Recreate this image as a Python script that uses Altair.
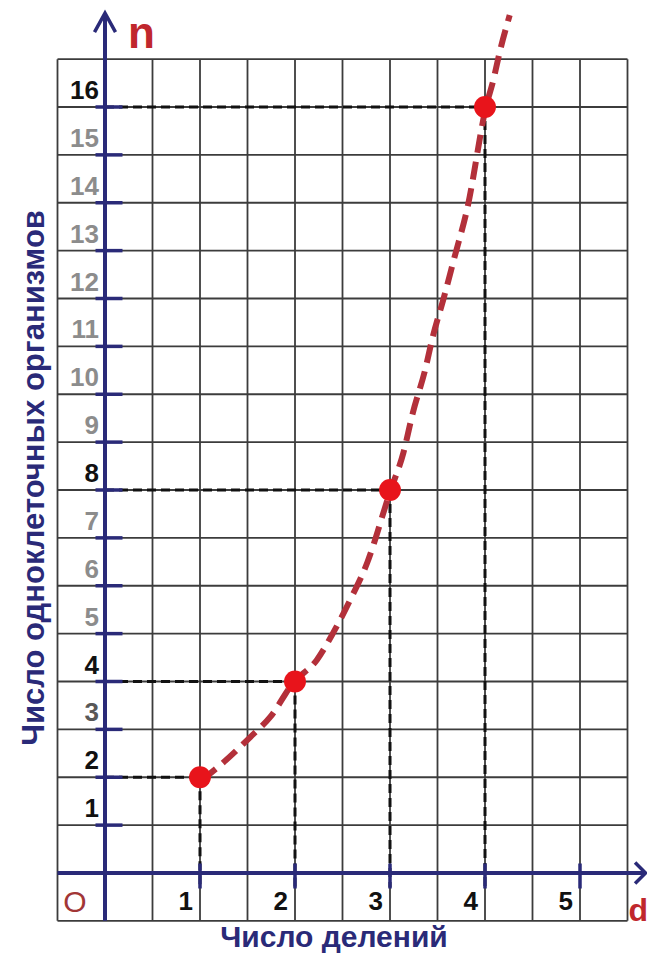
import altair as alt
import pandas as pd

# ---------------- data ----------------
divisions = [1, 2, 3, 4]            # d (число делений)
organisms = [2, 4, 8, 16]           # n (число организмов)

curve_divisions = [1.02, 1.24, 1.53, 1.74, 1.98, 2.23, 2.40, 2.58, 2.76, 3.00, 3.14,
                   3.24, 3.37, 3.45, 3.56, 3.68, 3.81, 4.02, 4.08, 4.16, 4.26]
curve_organisms = [1.94, 2.30, 2.84, 3.26, 3.97, 4.45, 5.01, 5.70, 6.48, 7.96, 8.77,
                   9.61, 10.51, 11.20, 11.97, 12.87, 13.85, 16.08, 16.50, 17.19, 17.92]

x_tick_values = [1, 2, 3, 4, 5]
y_tick_values = [1, 2, 3, 4, 5, 6, 7, 8, 9, 10, 11, 12, 13, 14, 15, 16]
y_highlight = [1, 2, 4, 8, 16]
y_mid = [3]

x_grid = [-0.5, 0, 0.5, 1, 1.5, 2, 2.5, 3, 3.5, 4, 4.5, 5, 5.5]
y_grid = [-1, 0, 1, 2, 3, 4, 5, 6, 7, 8, 9, 10, 11, 12, 13, 14, 15, 16, 17]

x_axis_end = 5.69
y_axis_end = 17.96
guide_bottom = -0.3

x_title = "Число делений"
y_title = "Число одноклеточных организмов"

# ---------------- styling ----------------
W, H = 639, 945
XS = alt.Scale(domain=[-1.021053, 5.705263], nice=False, zero=False)
YS = alt.Scale(domain=[-1.67102, 18.0679], nice=False, zero=False)
NAVY = "#2a2a78"
GRID = "#3c3c3c"
RED_LINE = "#b3303a"
RED_DOT = "#e8141b"
FONT = "Liberation Sans"


def X(f):
    return alt.X(f, type="quantitative", scale=XS, axis=None)


def Y(f):
    return alt.Y(f, type="quantitative", scale=YS, axis=None)


# grid
vgrid = pd.DataFrame({"x": x_grid, "y0": min(y_grid), "y1": max(y_grid)})
hgrid = pd.DataFrame({"y": y_grid, "x0": min(x_grid), "x1": max(x_grid)})
grid_v = alt.Chart(vgrid).mark_rule(color=GRID, strokeWidth=1.8).encode(
    x=X("x"), y=Y("y0"), y2="y1")
grid_h = alt.Chart(hgrid).mark_rule(color=GRID, strokeWidth=1.8).encode(
    y=Y("y"), x=X("x0"), x2="x1")

pts = pd.DataFrame({"d": divisions, "n": organisms, "zero": 0, "bottom": guide_bottom})
guide_h = alt.Chart(pts).mark_rule(color="#111", strokeWidth=3, strokeDash=[9, 5]).encode(
    x=X("zero"), x2="d", y=Y("n"))
guide_v = alt.Chart(pts).mark_rule(color="#111", strokeWidth=3, strokeDash=[9, 5]).encode(
    x=X("d"), y=Y("n"), y2="bottom")

# axes
axes_df = pd.DataFrame({"x0": [min(x_grid)], "x1": [x_axis_end], "y0": [min(y_grid)],
                        "y1": [y_axis_end], "zero": [0]})
y_axis = alt.Chart(axes_df).mark_rule(color=NAVY, strokeWidth=4).encode(
    x=X("zero"), y=Y("y0"), y2="y1")
x_axis = alt.Chart(axes_df).mark_rule(color=NAVY, strokeWidth=4).encode(
    y=Y("zero"), x=X("x0"), x2="x1")
x_arrow = alt.Chart(axes_df).mark_point(
    shape="M-1,-1L0,0L-1,1", filled=False, size=441, strokeWidth=3.5, color=NAVY, opacity=1
).encode(x=X("x1"), y=Y("zero"))
y_arrow = alt.Chart(axes_df).mark_point(
    shape="M-1,1.8L0,0L1,1.8", filled=False, size=441, strokeWidth=3.5, color=NAVY, opacity=1
).encode(x=X("zero"), y=Y("y1"))

# axis ticks
ydf = pd.DataFrame({"n": y_tick_values, "zero": 0,
                    "tone": ["hi" if v in y_highlight else ("mid" if v in y_mid else "lo")
                             for v in y_tick_values]})
xdf = pd.DataFrame({"d": x_tick_values, "zero": 0})
y_ticks = alt.Chart(ydf).mark_tick(orient="horizontal", size=27, thickness=3.5, color=NAVY,
                                    xOffset=4, opacity=1).encode(x=X("zero"), y=Y("n"))
x_ticks = alt.Chart(xdf).mark_tick(orient="vertical", size=25, thickness=3.5, color=NAVY,
                                    yOffset=3, opacity=1).encode(x=X("d"), y=Y("zero"))

# curve and points
cdf = pd.DataFrame({"d": curve_divisions, "n": curve_organisms,
                    "i": list(range(len(curve_divisions)))})
curve = alt.Chart(cdf).mark_line(color=RED_LINE, strokeWidth=6, strokeDash=[18, 9],
                                 interpolate="monotone").encode(
    x=X("d"), y=Y("n"), order="i:Q")
dots = alt.Chart(pts).mark_circle(color=RED_DOT, size=480, opacity=1).encode(
    x=X("d"), y=Y("n"))

# tick labels
y_labels = alt.Chart(ydf).mark_text(align="right", baseline="middle", dx=-6, dy=-16,
                                    fontSize=26, fontWeight="bold", font=FONT).encode(
    x=X("zero"), y=Y("n"), text="n:Q",
    color=alt.Color("tone:N", legend=None,
                    scale=alt.Scale(domain=["hi", "mid", "lo"],
                                    range=["#111111", "#585858", "#8c8c8c"])))
x_labels = alt.Chart(xdf).mark_text(align="right", baseline="middle", dx=-7, dy=29,
                                    fontSize=26, fontWeight="bold", font=FONT,
                                    color="#111111").encode(
    x=X("d"), y=Y("zero"), text="d:Q")

origin = alt.Chart(axes_df).mark_text(text="O", align="center", baseline="middle",
                                      dx=-30, dy=30, fontSize=30, font=FONT,
                                      color="#a23636").encode(x=X("zero"), y=Y("zero"))
n_lab = alt.Chart(axes_df).mark_text(text="n", align="left", baseline="alphabetic",
                                     dx=23, dy=35, fontSize=44, fontWeight="bold", font=FONT,
                                     color="#c0272d").encode(x=X("zero"), y=Y("y1"))
d_lab = alt.Chart(axes_df).mark_text(text="d", align="left", baseline="alphabetic",
                                     dx=-17, dy=48, fontSize=32, fontWeight="bold", font=FONT,
                                     color="#c0272d").encode(x=X("x1"), y=Y("zero"))

xt = alt.Chart(pd.DataFrame({"t": [x_title]})).mark_text(
    align="center", baseline="alphabetic", fontSize=30, fontWeight="bold", font=FONT,
    color=NAVY).encode(x=alt.value(326), y=alt.value(939), text="t:N")
yt = alt.Chart(pd.DataFrame({"t": [y_title]})).mark_text(
    align="center", baseline="middle", angle=270, fontSize=31, fontWeight="bold", font=FONT,
    color=NAVY).encode(x=alt.value(27), y=alt.value(470), text="t:N")

chart = alt.layer(
    grid_v, grid_h, guide_h, guide_v, x_axis, y_axis, x_arrow, y_arrow,
    y_ticks, x_ticks, curve, dots, y_labels, x_labels, origin, n_lab, d_lab, xt, yt
).properties(
    width=W, height=H, padding=0, autosize=alt.AutoSizeParams(type="none"),
    background="white"
).configure_view(stroke=None)

chart.save("out.html", embed_options={"renderer": "svg", "actions": False})
